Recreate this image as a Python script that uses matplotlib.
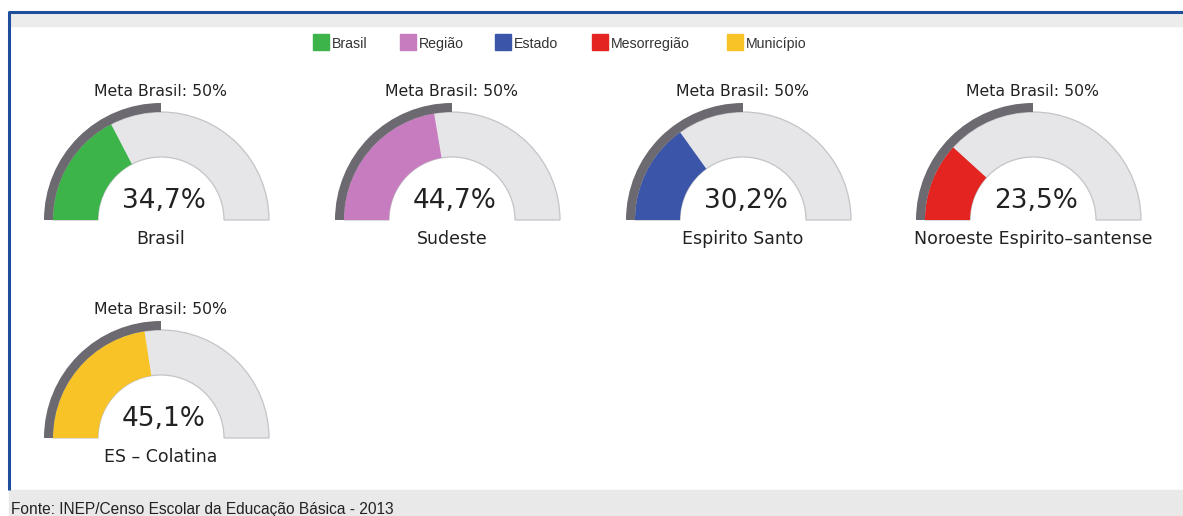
import numpy as np
import matplotlib.pyplot as plt
from matplotlib.patches import Wedge, Rectangle

# -----------------------------------------------------------------------------

names = ['Brasil', 'Sudeste', 'Espirito Santo', 'Noroeste Espirito–santense', 'ES – Colatina']
values = [34.7, 44.7, 30.2, 23.5, 45.1]
value_labels = ['34,7%', '44,7%', '30,2%', '23,5%', '45,1%']
colors = ['#3cb449', '#c87cc0', '#3b55a9', '#e42421', '#f7c326']
meta = 50.0
meta_label = 'Meta Brasil: 50%'

legend_names = ['Brasil', 'Região', 'Estado', 'Mesorregião', 'Município']
source = 'Fonte: INEP/Censo Escolar da Educação Básica - 2013'

# -----------------------------------------------------------------------------

W, H = 1183, 516
fig = plt.figure(figsize=(W / 100, H / 100), dpi=100)
ax = fig.add_axes([0, 0, 1, 1])
ax.set_xlim(0, W)
ax.set_ylim(H, 0)
ax.axis('off')

# frame
ax.add_patch(Rectangle((0, 0), W, H, color='white', zorder=0))
ax.add_patch(Rectangle((9, 12), W, 14, color='#ececec', zorder=1))
ax.add_patch(Rectangle((9, 490), W, 30, color='#e9e9e9', zorder=1))
ax.plot([9, 9, W], [490, 12, 12], color='#1f4f9c', linewidth=2.2, zorder=2,
        solid_capstyle='butt')
ax.text(11, 508, source, fontsize=11.2, family='Liberation Sans',
        color='#222222', va='center_baseline', ha='left')

# legend
leg_x = [313, 400, 495, 592, 727]
for x, name, c in zip(leg_x, legend_names, colors):
    ax.add_patch(Rectangle((x, 34), 16, 16, color=c, zorder=3))
    ax.text(x + 19, 42.5, name, fontsize=10.2, family='Liberation Sans',
            color='#333333', va='center_baseline', ha='left')

# gauges
centers = [(161, 220), (452, 220), (743, 220), (1033, 220), (161, 438)]
r_in, r_out, r_meta = 63, 108, 117

for (cx, cy), name, v, vl, c in zip(centers, names, values, value_labels, colors):
    # background
    ax.add_patch(Wedge((cx, cy), r_out, 180, 360, width=r_out - r_in,
                       facecolor='#e6e6e9', edgecolor='#c4c4c8', linewidth=0.9,
                       zorder=3))
    # value (angles flipped because y axis is inverted)
    a = 180 + v / 100 * 180
    ax.add_patch(Wedge((cx, cy), r_out, 180, a, width=r_out - r_in,
                       facecolor=c, edgecolor='none', zorder=4))
    # meta arc
    am = 180 + meta / 100 * 180
    ax.add_patch(Wedge((cx, cy), r_meta, 180, am, width=r_meta - r_out,
                       facecolor='#6c6a70', edgecolor='none', zorder=5))
    ax.text(cx, cy - 129, meta_label, fontsize=11.3, family='DejaVu Sans',
            color='#222222', ha='center', va='center')
    ax.text(cx + 3, cy - 19, vl, fontsize=19, family='DejaVu Sans',
            color='#222222', ha='center', va='center')
    ax.text(cx, cy + 19, name, fontsize=12.5, family='DejaVu Sans',
            color='#222222', ha='center', va='center')

fig.savefig('out.png', dpi=100)
